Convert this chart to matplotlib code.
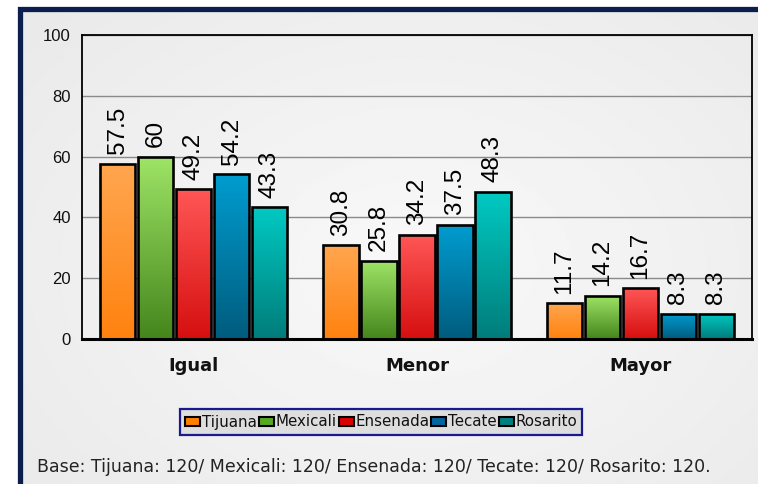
import numpy as np
import matplotlib
matplotlib.use("Agg")
import matplotlib.pyplot as plt
from matplotlib.colors import LinearSegmentedColormap
from matplotlib.patches import Patch, Rectangle

categories = ["Igual", "Menor", "Mayor"]
series = ["Tijuana", "Mexicali", "Ensenada", "Tecate", "Rosarito"]
tijuana = [57.5, 30.8, 11.7]
mexicali = [60, 25.8, 14.2]
ensenada = [49.2, 34.2, 16.7]
tecate = [54.2, 37.5, 8.3]
rosarito = [43.3, 48.3, 8.3]
values = [tijuana, mexicali, ensenada, tecate, rosarito]
y_ticks = [0, 20, 40, 60, 80, 100]
base_note = "Base: Tijuana: 120/ Mexicali: 120/ Ensenada: 120/ Tecate: 120/ Rosarito: 120."

grad_top = ["#ffa64f", "#9ee466", "#ff5656", "#009ccf", "#00c9c2"]
grad_bot = ["#ff820f", "#45861c", "#d60f0f", "#005c7e", "#007d7b"]
legend_colors = ["#ff8000", "#55aa22", "#dd0000", "#0066a0", "#008080"]

W, H = 758, 484
fig = plt.figure(figsize=(W / 100, H / 100), dpi=100)
fig.patch.set_facecolor("white")

# background gradient (inside frame)
bg = fig.add_axes([0, 0, 1, 1], zorder=-10)
yy, xx = np.mgrid[0:1:200j, 0:1:300j]
r = np.sqrt(((xx - 0.55) / 0.8) ** 2 + ((yy - 0.45) / 0.9) ** 2)
img = 0.975 - 0.07 * np.clip(r, 0, 1)
bg.imshow(img, cmap="gray", vmin=0, vmax=1, extent=(0, W, 0, H), aspect="auto", origin="lower")
bg.set_xlim(0, W)
bg.set_ylim(0, H)
bg.axis("off")
# white outside the frame
bg.add_patch(Rectangle((0, H - 9), W, 9, facecolor="white", edgecolor="none", zorder=2))
bg.add_patch(Rectangle((0, 0), 20, H, facecolor="white", edgecolor="none", zorder=2))
bg.add_patch(Rectangle((20, -20), W + 20, H - 9 + 20, facecolor="none",
                       edgecolor="#0c1e4e", linewidth=3.8, zorder=3))

ax = fig.add_axes([82 / W, 145 / H, 670 / W, 304 / H])
ax.patch.set_alpha(0)

x = np.arange(len(categories))
step = 0.17
bw = 0.158
for i, (name, vals) in enumerate(zip(series, values)):
    pos = x + (i - 2) * step
    bars = ax.bar(pos, vals, width=bw, facecolor="none", edgecolor="black",
                  linewidth=1.9, zorder=3)
    cmap = LinearSegmentedColormap.from_list(name, [grad_bot[i], grad_top[i]])
    for b, v in zip(bars, vals):
        x0 = b.get_x()
        grad = np.linspace(0, 1, 100).reshape(-1, 1)
        im = ax.imshow(grad, cmap=cmap, extent=(x0, x0 + bw, 0, v), origin="lower",
                       aspect="auto", zorder=2)
        im.set_clip_path(b)
        ax.annotate(f"{v:g}", xy=(b.get_x() + bw / 2, v), xytext=(0, 7),
                    textcoords="offset points", rotation=90, ha="center", va="bottom",
                    fontsize=17.5, family="Liberation Sans", color="black", zorder=4)

ax.set_xlim(-0.5, 2.5)
ax.set_ylim(0, 100)
ax.set_yticks(y_ticks)
ax.set_yticklabels([str(t) for t in y_ticks], fontsize=12, family="Liberation Sans", color="#111111")
ax.set_xticks(x)
ax.set_xticklabels(categories, fontsize=13, fontweight="bold", family="DejaVu Sans", color="#111111")
ax.tick_params(axis="y", length=0, pad=8)
ax.tick_params(axis="x", length=0, pad=13)
ax.yaxis.grid(True, color="#8a8a8a", linewidth=1.0, zorder=1)
ax.set_axisbelow(True)
for s in ["left", "top", "right"]:
    ax.spines[s].set_linewidth(1.3)
    ax.spines[s].set_color("black")
ax.spines["bottom"].set_linewidth(2.2)

handles = [Patch(facecolor=c, edgecolor="black", linewidth=1.5) for c in legend_colors]
leg = fig.legend(handles, series, loc="center", bbox_to_anchor=(381 / W, 62 / H), ncol=5,
                 frameon=True, fancybox=False, edgecolor="#1a1a8e", facecolor="#dedede",
                 handlelength=1.0, handleheight=0.55, handletextpad=0.1, columnspacing=0.15,
                 borderpad=0.35, borderaxespad=0,
                 prop={"family": "DejaVu Sans Condensed", "size": 10.8})
leg.get_frame().set_linewidth(1.6)
leg.get_frame().set_alpha(1)
for t in leg.get_texts():
    t.set_color("#111111")

fig.text(37 / W, (H - 467) / H, base_note, fontsize=12.5, family="DejaVu Sans Condensed",
         color="#222222", ha="left", va="center")

fig.savefig("out.png", dpi=100)
